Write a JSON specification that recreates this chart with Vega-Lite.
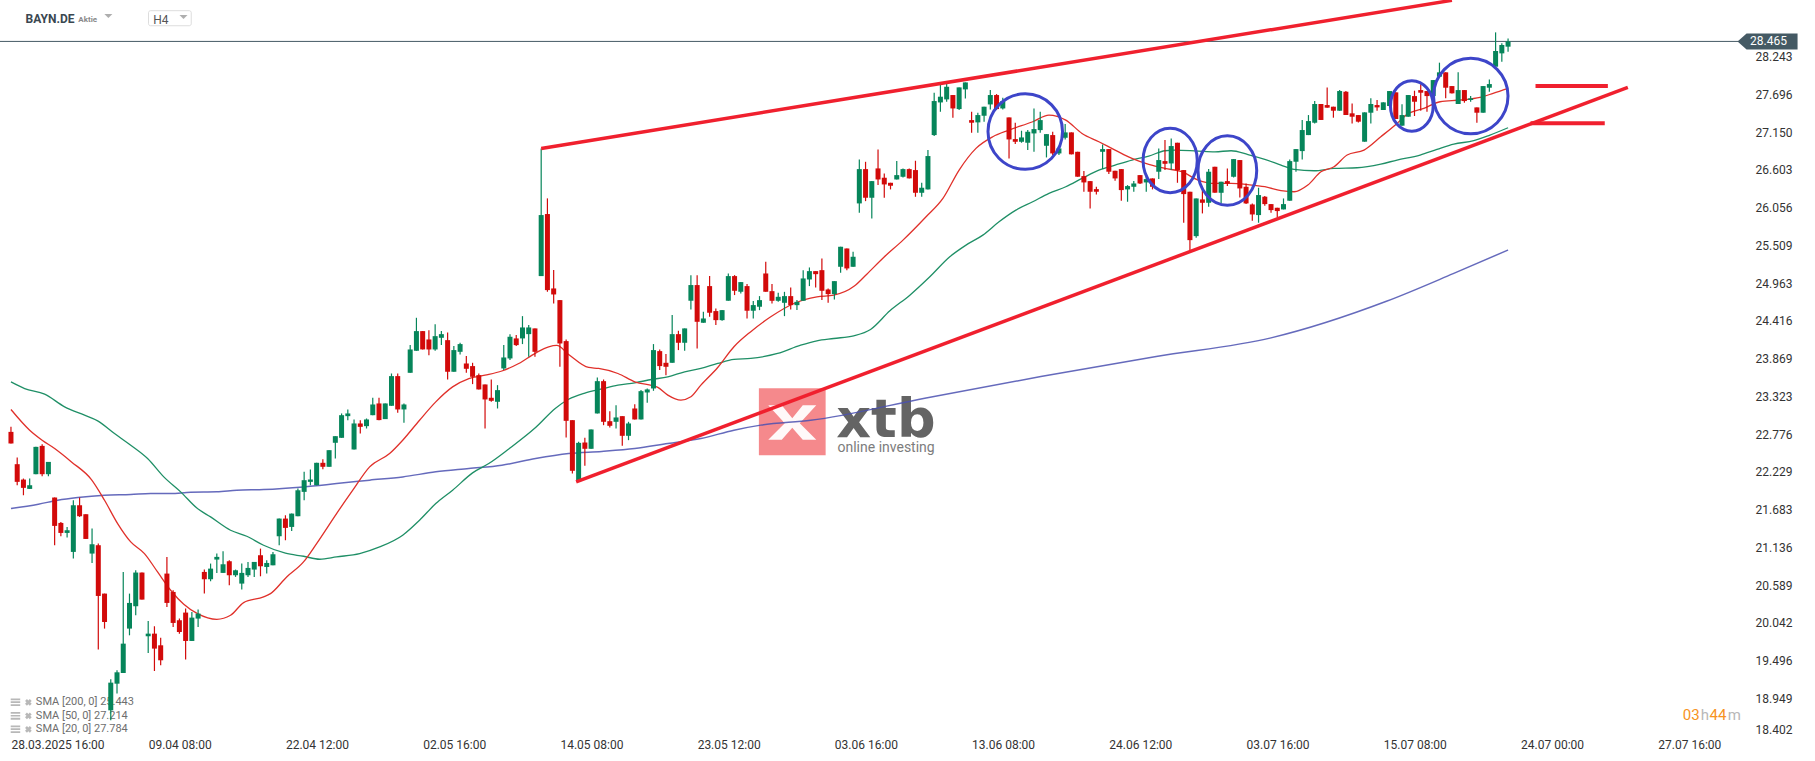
{
"$schema": "https://vega.github.io/schema/vega-lite/v6.json",
"width": 1742, "height": 736,
"autosize": {"type": "none"},
"padding": {"left": 0, "top": 0, "right": 73, "bottom": 25},
"background": "white",
"config": {"view": {"stroke": null}, "font": "Roboto"},
"datasets": {
"candles": [
{"i":0,"o":22.808,"h":22.881,"l":22.639,"c":22.640},{"i":1,"o":22.340,"h":22.436,"l":22.035,"c":22.084},{"i":2,"o":22.117,"h":22.132,"l":21.890,"c":21.997},{"i":3,"o":21.982,"h":22.132,"l":21.982,"c":22.035},{"i":4,"o":22.195,"h":22.591,"l":22.195,"c":22.591},{"i":5,"o":22.605,"h":22.629,"l":22.166,"c":22.195},{"i":6,"o":22.195,"h":22.373,"l":22.166,"c":22.373},{"i":7,"o":21.857,"h":21.857,"l":21.166,"c":21.446},{"i":8,"o":21.489,"h":21.504,"l":21.296,"c":21.344},{"i":9,"o":21.344,"h":21.431,"l":21.277,"c":21.383},
{"i":10,"o":21.069,"h":21.818,"l":20.972,"c":21.745},{"i":11,"o":21.745,"h":21.857,"l":21.576,"c":21.586},{"i":12,"o":21.615,"h":21.615,"l":21.257,"c":21.257},{"i":13,"o":21.045,"h":21.407,"l":20.910,"c":21.180},{"i":14,"o":21.166,"h":21.190,"l":19.654,"c":20.431},{"i":15,"o":20.465,"h":20.465,"l":19.958,"c":20.054},{"i":16,"o":18.774,"h":19.224,"l":18.630,"c":19.175},{"i":17,"o":19.160,"h":19.354,"l":19.016,"c":19.325},{"i":18,"o":19.315,"h":20.779,"l":19.315,"c":19.740},{"i":19,"o":19.958,"h":20.465,"l":19.861,"c":20.330},
{"i":20,"o":20.282,"h":20.803,"l":20.151,"c":20.770},{"i":21,"o":20.770,"h":20.770,"l":20.378,"c":20.378},{"i":22,"o":19.847,"h":20.069,"l":19.605,"c":19.885},{"i":23,"o":19.885,"h":19.992,"l":19.344,"c":19.668},{"i":24,"o":19.716,"h":19.827,"l":19.427,"c":19.499},{"i":25,"o":20.755,"h":20.997,"l":20.272,"c":20.330},{"i":26,"o":20.489,"h":20.513,"l":19.982,"c":20.040},{"i":27,"o":20.079,"h":20.103,"l":19.885,"c":19.909},{"i":28,"o":20.190,"h":20.248,"l":19.509,"c":19.779},{"i":29,"o":19.779,"h":20.200,"l":19.779,"c":20.117},
{"i":30,"o":20.103,"h":20.233,"l":19.982,"c":20.175},{"i":31,"o":20.779,"h":20.813,"l":20.465,"c":20.673},{"i":32,"o":20.673,"h":20.900,"l":20.644,"c":20.827},{"i":33,"o":20.958,"h":21.045,"l":20.765,"c":20.997},{"i":34,"o":20.765,"h":21.079,"l":20.765,"c":20.890},{"i":35,"o":20.934,"h":20.948,"l":20.586,"c":20.731},{"i":36,"o":20.731,"h":20.813,"l":20.707,"c":20.803},{"i":37,"o":20.610,"h":20.900,"l":20.523,"c":20.765},{"i":38,"o":20.731,"h":20.924,"l":20.707,"c":20.837},{"i":39,"o":20.813,"h":20.924,"l":20.707,"c":20.924},
{"i":40,"o":21.021,"h":21.117,"l":20.716,"c":20.861},{"i":41,"o":20.851,"h":20.948,"l":20.755,"c":20.909},{"i":42,"o":20.875,"h":21.069,"l":20.875,"c":21.035},{"i":43,"o":21.296,"h":21.552,"l":21.165,"c":21.552},{"i":44,"o":21.552,"h":21.600,"l":21.238,"c":21.417},{"i":45,"o":21.431,"h":21.624,"l":21.373,"c":21.624},{"i":46,"o":21.586,"h":21.987,"l":21.586,"c":21.962},{"i":47,"o":21.939,"h":22.229,"l":21.818,"c":22.108},{"i":48,"o":22.084,"h":22.263,"l":22.036,"c":22.118},{"i":49,"o":22.036,"h":22.360,"l":22.036,"c":22.360},
{"i":50,"o":22.360,"h":22.413,"l":22.268,"c":22.302},{"i":51,"o":22.302,"h":22.543,"l":22.302,"c":22.543},{"i":52,"o":22.650,"h":22.746,"l":22.422,"c":22.746},{"i":53,"o":22.722,"h":23.075,"l":22.722,"c":23.050},{"i":54,"o":23.036,"h":23.133,"l":22.978,"c":23.075},{"i":55,"o":22.553,"h":22.988,"l":22.553,"c":22.930},{"i":56,"o":22.930,"h":22.978,"l":22.785,"c":22.881},{"i":57,"o":22.891,"h":23.002,"l":22.857,"c":22.988},{"i":58,"o":23.050,"h":23.302,"l":23.050,"c":23.205},{"i":59,"o":23.220,"h":23.302,"l":22.978,"c":22.979},
{"i":60,"o":22.993,"h":23.220,"l":22.993,"c":23.220},{"i":61,"o":23.186,"h":23.654,"l":23.186,"c":23.616},{"i":62,"o":23.616,"h":23.654,"l":23.084,"c":23.133},{"i":63,"o":23.133,"h":23.220,"l":22.939,"c":23.205},{"i":64,"o":23.664,"h":24.065,"l":23.664,"c":24.002},{"i":65,"o":23.983,"h":24.461,"l":23.983,"c":24.268},{"i":66,"o":24.268,"h":24.268,"l":24.002,"c":24.003},{"i":67,"o":24.147,"h":24.282,"l":23.920,"c":24.002},{"i":68,"o":24.002,"h":24.369,"l":23.983,"c":24.195},{"i":69,"o":24.171,"h":24.268,"l":24.065,"c":24.224},
{"i":70,"o":24.137,"h":24.249,"l":23.567,"c":23.679},{"i":71,"o":23.679,"h":24.051,"l":23.679,"c":23.993},{"i":72,"o":23.968,"h":24.099,"l":23.930,"c":24.080},{"i":73,"o":23.799,"h":23.906,"l":23.664,"c":23.722},{"i":74,"o":23.761,"h":23.809,"l":23.500,"c":23.606},{"i":75,"o":23.630,"h":23.654,"l":23.422,"c":23.423},{"i":76,"o":23.495,"h":23.495,"l":22.857,"c":23.278},{"i":77,"o":23.302,"h":23.567,"l":23.244,"c":23.258},{"i":78,"o":23.244,"h":23.485,"l":23.147,"c":23.413},{"i":79,"o":23.727,"h":24.065,"l":23.703,"c":23.886},
{"i":80,"o":23.872,"h":24.224,"l":23.848,"c":24.186},{"i":81,"o":24.162,"h":24.210,"l":24.051,"c":24.065},{"i":82,"o":24.162,"h":24.485,"l":24.080,"c":24.321},{"i":83,"o":24.224,"h":24.355,"l":23.896,"c":24.321},{"i":84,"o":24.307,"h":24.307,"l":23.896,"c":23.968},{"i":85,"o":25.065,"h":26.915,"l":25.065,"c":25.949},{"i":86,"o":25.964,"h":26.191,"l":24.838,"c":24.862},{"i":87,"o":24.886,"h":25.152,"l":24.669,"c":24.799},{"i":88,"o":24.717,"h":24.717,"l":23.751,"c":24.089},{"i":89,"o":24.123,"h":24.147,"l":22.727,"c":22.968},
{"i":90,"o":22.978,"h":22.978,"l":22.205,"c":22.244},{"i":91,"o":22.084,"h":22.664,"l":22.084,"c":22.649},{"i":92,"o":22.654,"h":22.722,"l":22.316,"c":22.563},{"i":93,"o":22.563,"h":22.843,"l":22.563,"c":22.843},{"i":94,"o":23.075,"h":23.596,"l":23.075,"c":23.543},{"i":95,"o":23.543,"h":23.567,"l":22.905,"c":22.954},{"i":96,"o":22.963,"h":23.108,"l":22.872,"c":22.896},{"i":97,"o":22.954,"h":23.195,"l":22.857,"c":23.017},{"i":98,"o":23.036,"h":23.036,"l":22.606,"c":22.751},{"i":99,"o":22.751,"h":22.954,"l":22.688,"c":22.930},
{"i":100,"o":23.147,"h":23.210,"l":22.988,"c":22.988},{"i":101,"o":22.988,"h":23.413,"l":22.988,"c":23.398},{"i":102,"o":23.379,"h":23.437,"l":23.229,"c":23.423},{"i":103,"o":23.437,"h":24.080,"l":23.403,"c":23.993},{"i":104,"o":23.978,"h":24.002,"l":23.703,"c":23.761},{"i":105,"o":23.809,"h":23.935,"l":23.630,"c":23.751},{"i":106,"o":23.809,"h":24.500,"l":23.809,"c":24.224},{"i":107,"o":24.224,"h":24.273,"l":23.993,"c":24.099},{"i":108,"o":24.099,"h":24.307,"l":23.983,"c":24.307},{"i":109,"o":24.708,"h":25.079,"l":24.582,"c":24.935},
{"i":110,"o":24.935,"h":25.079,"l":24.017,"c":24.403},{"i":111,"o":24.389,"h":24.548,"l":24.389,"c":24.451},{"i":112,"o":24.920,"h":25.065,"l":24.476,"c":24.534},{"i":113,"o":24.558,"h":24.596,"l":24.355,"c":24.427},{"i":114,"o":24.427,"h":24.572,"l":24.418,"c":24.572},{"i":115,"o":24.708,"h":25.104,"l":24.708,"c":25.065},{"i":116,"o":25.065,"h":25.079,"l":24.790,"c":24.852},{"i":117,"o":24.838,"h":24.978,"l":24.814,"c":24.978},{"i":118,"o":24.920,"h":24.949,"l":24.451,"c":24.563},{"i":119,"o":24.563,"h":24.703,"l":24.451,"c":24.645},
{"i":120,"o":24.621,"h":24.775,"l":24.572,"c":24.717},{"i":121,"o":25.103,"h":25.272,"l":24.837,"c":24.838},{"i":122,"o":24.847,"h":24.949,"l":24.668,"c":24.707},{"i":123,"o":24.707,"h":24.823,"l":24.693,"c":24.765},{"i":124,"o":24.678,"h":24.837,"l":24.485,"c":24.775},{"i":125,"o":24.775,"h":24.900,"l":24.581,"c":24.644},{"i":126,"o":24.644,"h":24.717,"l":24.572,"c":24.692},{"i":127,"o":24.707,"h":25.151,"l":24.707,"c":25.031},{"i":128,"o":25.016,"h":25.190,"l":24.920,"c":25.137},{"i":129,"o":25.137,"h":25.137,"l":24.900,"c":25.093},
{"i":130,"o":25.151,"h":25.321,"l":24.717,"c":24.852},{"i":131,"o":24.871,"h":24.886,"l":24.678,"c":24.804},{"i":132,"o":24.804,"h":24.992,"l":24.726,"c":24.992},{"i":133,"o":25.200,"h":25.490,"l":25.113,"c":25.490},{"i":134,"o":25.465,"h":25.465,"l":25.151,"c":25.176},{"i":135,"o":25.200,"h":25.417,"l":25.200,"c":25.345},{"i":136,"o":26.118,"h":26.755,"l":25.982,"c":26.615},{"i":137,"o":26.615,"h":26.721,"l":26.151,"c":26.200},{"i":138,"o":26.200,"h":26.441,"l":25.900,"c":26.441},{"i":139,"o":26.625,"h":26.900,"l":26.383,"c":26.465},
{"i":140,"o":26.490,"h":26.552,"l":26.200,"c":26.393},{"i":141,"o":26.417,"h":26.417,"l":26.321,"c":26.374},{"i":142,"o":26.465,"h":26.731,"l":26.465,"c":26.528},{"i":143,"o":26.504,"h":26.625,"l":26.494,"c":26.615},{"i":144,"o":26.615,"h":26.625,"l":26.480,"c":26.481},{"i":145,"o":26.601,"h":26.736,"l":26.214,"c":26.272},{"i":146,"o":26.272,"h":26.417,"l":26.214,"c":26.345},{"i":147,"o":26.321,"h":26.891,"l":26.321,"c":26.804},{"i":148,"o":27.108,"h":27.721,"l":27.093,"c":27.601},{"i":149,"o":27.581,"h":27.857,"l":27.446,"c":27.664},
{"i":150,"o":27.625,"h":27.857,"l":27.591,"c":27.808},{"i":151,"o":27.688,"h":27.688,"l":27.359,"c":27.494},{"i":152,"o":27.485,"h":27.799,"l":27.470,"c":27.799},{"i":153,"o":27.770,"h":27.871,"l":27.639,"c":27.871},{"i":154,"o":27.325,"h":27.446,"l":27.142,"c":27.287},{"i":155,"o":27.292,"h":27.432,"l":27.142,"c":27.398},{"i":156,"o":27.388,"h":27.519,"l":27.301,"c":27.519},{"i":157,"o":27.552,"h":27.760,"l":27.480,"c":27.688},{"i":158,"o":27.688,"h":27.702,"l":27.480,"c":27.485},{"i":159,"o":27.494,"h":27.649,"l":27.480,"c":27.601},
{"i":160,"o":27.364,"h":27.364,"l":26.770,"c":27.045},{"i":161,"o":27.050,"h":27.287,"l":26.978,"c":27.011},{"i":162,"o":27.011,"h":27.171,"l":26.997,"c":27.074},{"i":163,"o":26.997,"h":27.180,"l":26.891,"c":27.156},{"i":164,"o":27.132,"h":27.494,"l":26.866,"c":27.195},{"i":165,"o":27.180,"h":27.446,"l":27.142,"c":27.325},{"i":166,"o":26.953,"h":27.122,"l":26.784,"c":27.122},{"i":167,"o":27.108,"h":27.156,"l":26.818,"c":26.842},{"i":168,"o":26.842,"h":26.915,"l":26.818,"c":26.915},{"i":169,"o":27.069,"h":27.267,"l":27.045,"c":27.147},
{"i":170,"o":27.147,"h":27.147,"l":26.828,"c":26.829},{"i":171,"o":26.866,"h":26.866,"l":26.504,"c":26.505},{"i":172,"o":26.514,"h":26.586,"l":26.287,"c":26.422},{"i":173,"o":26.441,"h":26.441,"l":26.045,"c":26.287},{"i":174,"o":26.325,"h":26.359,"l":26.248,"c":26.287},{"i":175,"o":26.866,"h":26.973,"l":26.615,"c":26.905},{"i":176,"o":26.905,"h":26.905,"l":26.543,"c":26.577},{"i":177,"o":26.591,"h":26.591,"l":26.446,"c":26.480},{"i":178,"o":26.615,"h":26.615,"l":26.156,"c":26.311},{"i":179,"o":26.321,"h":26.383,"l":26.142,"c":26.369},
{"i":180,"o":26.359,"h":26.441,"l":26.287,"c":26.407},{"i":181,"o":26.528,"h":26.528,"l":26.398,"c":26.407},{"i":182,"o":26.422,"h":26.528,"l":26.287,"c":26.470},{"i":183,"o":26.480,"h":26.480,"l":26.321,"c":26.359},{"i":184,"o":26.577,"h":26.915,"l":26.470,"c":26.746},{"i":185,"o":26.731,"h":27.036,"l":26.601,"c":26.692},{"i":186,"o":26.697,"h":27.060,"l":26.601,"c":26.949},{"i":187,"o":26.997,"h":26.997,"l":26.417,"c":26.601},{"i":188,"o":26.601,"h":26.601,"l":25.837,"c":26.253},{"i":189,"o":26.287,"h":26.287,"l":25.417,"c":25.586},
{"i":190,"o":25.644,"h":26.190,"l":25.620,"c":26.190},{"i":191,"o":26.176,"h":26.311,"l":25.973,"c":26.127},{"i":192,"o":26.127,"h":26.615,"l":26.069,"c":26.577},{"i":193,"o":26.649,"h":26.649,"l":26.272,"c":26.273},{"i":194,"o":26.272,"h":26.432,"l":26.118,"c":26.432},{"i":195,"o":26.441,"h":26.625,"l":26.369,"c":26.407},{"i":196,"o":26.504,"h":26.760,"l":26.494,"c":26.760},{"i":197,"o":26.746,"h":26.746,"l":26.205,"c":26.335},{"i":198,"o":26.359,"h":26.407,"l":26.108,"c":26.118},{"i":199,"o":26.103,"h":26.118,"l":25.866,"c":25.958},
{"i":200,"o":25.949,"h":26.345,"l":25.838,"c":26.239},{"i":201,"o":26.215,"h":26.224,"l":26.084,"c":26.108},{"i":202,"o":26.108,"h":26.108,"l":25.983,"c":26.021},{"i":203,"o":26.055,"h":26.055,"l":25.915,"c":26.007},{"i":204,"o":26.031,"h":26.190,"l":26.031,"c":26.108},{"i":205,"o":26.157,"h":26.756,"l":26.157,"c":26.731},{"i":206,"o":26.722,"h":26.905,"l":26.577,"c":26.905},{"i":207,"o":26.876,"h":27.326,"l":26.756,"c":27.181},{"i":208,"o":27.108,"h":27.398,"l":27.108,"c":27.311},{"i":209,"o":27.287,"h":27.601,"l":27.277,"c":27.558},
{"i":210,"o":27.558,"h":27.558,"l":27.326,"c":27.327},{"i":211,"o":27.543,"h":27.799,"l":27.504,"c":27.505},{"i":212,"o":27.519,"h":27.519,"l":27.360,"c":27.461},{"i":213,"o":27.461,"h":27.760,"l":27.461,"c":27.746},{"i":214,"o":27.736,"h":27.746,"l":27.398,"c":27.399},{"i":215,"o":27.423,"h":27.567,"l":27.277,"c":27.374},{"i":216,"o":27.398,"h":27.398,"l":27.290,"c":27.302},{"i":217,"o":27.012,"h":27.437,"l":27.012,"c":27.437},{"i":218,"o":27.432,"h":27.640,"l":27.277,"c":27.558},{"i":219,"o":27.543,"h":27.616,"l":27.461,"c":27.509},
{"i":220,"o":27.471,"h":27.582,"l":27.471,"c":27.582},{"i":221,"o":27.529,"h":27.746,"l":27.509,"c":27.746},{"i":222,"o":27.727,"h":27.727,"l":27.340,"c":27.341},{"i":223,"o":27.244,"h":27.553,"l":27.244,"c":27.398},{"i":224,"o":27.374,"h":27.688,"l":27.374,"c":27.688},{"i":225,"o":27.673,"h":27.751,"l":27.384,"c":27.591},{"i":226,"o":27.760,"h":27.843,"l":27.461,"c":27.722},{"i":227,"o":27.746,"h":27.746,"l":27.447,"c":27.673},{"i":228,"o":27.673,"h":27.905,"l":27.673,"c":27.905},{"i":229,"o":27.954,"h":28.157,"l":27.954,"c":28.017},
{"i":230,"o":28.017,"h":28.017,"l":27.640,"c":27.794},{"i":231,"o":27.818,"h":27.818,"l":27.712,"c":27.713},{"i":232,"o":27.558,"h":28.017,"l":27.558,"c":27.760},{"i":233,"o":27.760,"h":27.760,"l":27.577,"c":27.601},{"i":234,"o":27.616,"h":27.674,"l":27.591,"c":27.640},{"i":235,"o":27.509,"h":27.509,"l":27.287,"c":27.432},{"i":236,"o":27.432,"h":27.818,"l":27.432,"c":27.818},{"i":237,"o":27.794,"h":27.915,"l":27.736,"c":27.847},{"i":238,"o":28.099,"h":28.596,"l":28.099,"c":28.326},{"i":239,"o":28.292,"h":28.437,"l":28.171,"c":28.413},
{"i":240,"o":28.389,"h":28.509,"l":28.316,"c":28.465}
],
"sma20": [
{"i":0,"v":23.132},{"i":3,"v":22.832},{"i":5,"v":22.687},{"i":7,"v":22.567},{"i":9.7,"v":22.373},{"i":12.9,"v":22.117},{"i":15,"v":21.818},{"i":17.1,"v":21.48},{"i":19.2,"v":21.214},{"i":21.4,"v":21.045},{"i":23.5,"v":20.779},{"i":25.6,"v":20.514},{"i":27.7,"v":20.311},{"i":29.9,"v":20.175},{"i":33,"v":20.093},{"i":35.2,"v":20.151},{"i":37.3,"v":20.335},{"i":40.5,"v":20.417},{"i":41.6,"v":20.465},{"i":44.2,"v":20.706},{"i":46.9,"v":20.924},{"i":49,"v":21.19},{"i":52.2,"v":21.625},{"i":54.8,"v":21.963},{"i":57.5,"v":22.301},{"i":60.7,"v":22.494},{"i":62.8,"v":22.687},{"i":65.5,"v":22.977},{"i":68.1,"v":23.243},{"i":70.8,"v":23.46},{"i":73.4,"v":23.581},{"i":76,"v":23.629},{"i":78.7,"v":23.69},{"i":81.4,"v":23.798},{"i":84.1,"v":23.95},{"i":86.2,"v":24.04},{"i":87.5,"v":24.06},{"i":89.4,"v":23.93},{"i":92.6,"v":23.741},{"i":94.2,"v":23.727},{"i":97.3,"v":23.654},{"i":100,"v":23.534},{"i":103.7,"v":23.452},{"i":105.3,"v":23.341},{"i":107.4,"v":23.268},{"i":109,"v":23.316},{"i":110.6,"v":23.485},{"i":113.3,"v":23.741},{"i":115.9,"v":24.041},{"i":118.6,"v":24.26},{"i":121.8,"v":24.475},{"i":125.5,"v":24.668},{"i":129.2,"v":24.765},{"i":131.9,"v":24.789},{"i":135.2,"v":24.92},{"i":137.2,"v":25.093},{"i":139.9,"v":25.335},{"i":143,"v":25.586},{"i":146.7,"v":25.924},{"i":149.4,"v":26.19},{"i":152,"v":26.601},{"i":154.7,"v":26.915},{"i":157.4,"v":27.084},{"i":160,"v":27.18},{"i":163.8,"v":27.301},{"i":166.4,"v":27.398},{"i":169.1,"v":27.325},{"i":171.7,"v":27.132},{"i":174.4,"v":27.011},{"i":177,"v":26.891},{"i":179.7,"v":26.77},{"i":182.4,"v":26.683},{"i":185,"v":26.625},{"i":187.7,"v":26.577},{"i":190.3,"v":26.456},{"i":193,"v":26.407},{"i":195.6,"v":26.407},{"i":198.3,"v":26.39},{"i":201,"v":26.36},{"i":203.6,"v":26.302},{"i":205.7,"v":26.287},{"i":207.9,"v":26.384},{"i":210,"v":26.577},{"i":212.1,"v":26.649},{"i":214.2,"v":26.819},{"i":216.9,"v":26.891},{"i":219.6,"v":27.084},{"i":222.2,"v":27.277},{"i":223.8,"v":27.408},{"i":226.5,"v":27.495},{"i":229.1,"v":27.591},{"i":232.3,"v":27.616},{"i":235.5,"v":27.654},{"i":237.6,"v":27.712},{"i":240,"v":27.784}
],
"sma50": [
{"i":0,"v":23.533},{"i":2.2,"v":23.436},{"i":5.4,"v":23.354},{"i":8.6,"v":23.171},{"i":11.8,"v":23.05},{"i":13.9,"v":22.968},{"i":16.6,"v":22.784},{"i":19.2,"v":22.615},{"i":21.9,"v":22.422},{"i":24.5,"v":22.156},{"i":27.2,"v":21.939},{"i":29.9,"v":21.697},{"i":32,"v":21.576},{"i":35.2,"v":21.383},{"i":37.8,"v":21.296},{"i":40.5,"v":21.166},{"i":44,"v":21.05},{"i":46.9,"v":21.006},{"i":49.5,"v":20.963},{"i":52.2,"v":20.997},{"i":55.9,"v":21.045},{"i":59.1,"v":21.141},{"i":62.8,"v":21.311},{"i":65.5,"v":21.528},{"i":68.1,"v":21.769},{"i":70.8,"v":21.963},{"i":74,"v":22.214},{"i":76.6,"v":22.349},{"i":79.8,"v":22.56},{"i":84.1,"v":22.87},{"i":87.3,"v":23.15},{"i":89.4,"v":23.28},{"i":92,"v":23.37},{"i":94.7,"v":23.43},{"i":97.3,"v":23.485},{"i":100,"v":23.519},{"i":102.7,"v":23.567},{"i":105.3,"v":23.606},{"i":108,"v":23.679},{"i":110.6,"v":23.727},{"i":113.3,"v":23.799},{"i":115.9,"v":23.857},{"i":118.6,"v":23.872},{"i":122.9,"v":23.944},{"i":126.6,"v":24.064},{"i":129.2,"v":24.127},{"i":131.9,"v":24.161},{"i":135.1,"v":24.2},{"i":137.8,"v":24.292},{"i":140.9,"v":24.562},{"i":144.1,"v":24.789},{"i":147.3,"v":25.055},{"i":150.5,"v":25.345},{"i":153.1,"v":25.514},{"i":155.8,"v":25.659},{"i":158.4,"v":25.852},{"i":161.1,"v":26.021},{"i":163.8,"v":26.142},{"i":166.4,"v":26.263},{"i":169.1,"v":26.359},{"i":171.7,"v":26.48},{"i":174.4,"v":26.601},{"i":177,"v":26.673},{"i":179.7,"v":26.746},{"i":182.4,"v":26.804},{"i":185,"v":26.881},{"i":186.6,"v":26.891},{"i":190.3,"v":26.876},{"i":193,"v":26.866},{"i":195.6,"v":26.881},{"i":198.3,"v":26.826},{"i":201,"v":26.756},{"i":203.6,"v":26.674},{"i":205.7,"v":26.611},{"i":208.9,"v":26.591},{"i":212.1,"v":26.625},{"i":215.8,"v":26.635},{"i":219.6,"v":26.688},{"i":222.2,"v":26.746},{"i":225.9,"v":26.819},{"i":228.6,"v":26.901},{"i":231.3,"v":26.978},{"i":234.5,"v":27.026},{"i":237.1,"v":27.108},{"i":240,"v":27.214}
],
"sma200": [
{"i":0,"v":21.697},{"i":4.4,"v":21.76},{"i":7.5,"v":21.818},{"i":10.7,"v":21.857},{"i":15,"v":21.89},{"i":19.2,"v":21.9},{"i":22.4,"v":21.914},{"i":25.6,"v":21.914},{"i":28.8,"v":21.934},{"i":33,"v":21.939},{"i":36.2,"v":21.963},{"i":40.5,"v":21.973},{"i":46.9,"v":22.011},{"i":52.2,"v":22.059},{"i":57.5,"v":22.108},{"i":62.8,"v":22.156},{"i":68.1,"v":22.229},{"i":73.4,"v":22.277},{"i":78.7,"v":22.325},{"i":84.1,"v":22.422},{"i":89.4,"v":22.494},{"i":94.7,"v":22.525},{"i":100,"v":22.567},{"i":105.3,"v":22.64},{"i":110.6,"v":22.712},{"i":115.9,"v":22.833},{"i":120.2,"v":22.906},{"i":128.2,"v":22.975},{"i":146.7,"v":23.3},{"i":165.1,"v":23.61},{"i":183.6,"v":23.9},{"i":202,"v":24.17},{"i":220.5,"v":24.7},{"i":231.2,"v":25.1},{"i":240,"v":25.443}
],
"trendUp": [{"i":85,"v":26.915},{"i":231,"v":29.06}],
"trendLow": [{"i":90.6,"v":22.084},{"i":259.2,"v":27.8}],
"bars": [{"i":244.4,"i2":256,"v":27.818},{"i":243.6,"i2":255.5,"v":27.28}],
"circles": [{"i":162.6,"v":27.159},{"i":234.02,"v":27.673}]
},
"layer": [
{"data": {"values": [{"v": 28.465}]}, "mark": {"type": "rule", "color": "#455a64", "strokeWidth": 1},
 "encoding": {"y": {"field": "v", "type": "quantitative", "scale": {"domain": [18.402, 29.065], "nice": false, "zero": false},
   "axis": {"orient": "right", "values": [18.402,18.949,19.496,20.042,20.589,21.136,21.683,22.229,22.776,23.323,23.869,24.416,24.963,25.509,26.056,26.603,27.150,27.696,28.243], "format": ".3f", "title": null, "domain": false, "ticks": false, "grid": false, "labelPadding": 13, "labelFontSize": 12, "labelColor": "#333333", "labelFont": "Roboto", "labelFlush": true, "labelOverlap": false}}}},
{"data": {"values": [{"i": 0, "v": 18.4}]}, "mark": {"type": "point", "opacity": 0},
 "encoding": {"x": {"field": "i", "type": "quantitative", "scale": {"domain": [-0.956, 276.7], "nice": false, "zero": false},
   "axis": {"orient": "bottom", "values": [0,22,44,66,88,110,132,154,176,198,220,242,264], "labelExpr": "['28.03.2025  16:00','09.04  08:00','22.04  12:00','02.05  16:00','14.05  08:00','23.05  12:00','03.06  16:00','13.06  08:00','24.06  12:00','03.07  16:00','15.07  08:00','24.07  00:00','27.07  16:00'][round(datum.value/22)]", "title": null, "domain": false, "ticks": false, "grid": false, "labelAlign": "left", "labelBaseline": "middle", "labelPadding": 8, "labelFontSize": 12, "labelColor": "#333333", "labelFont": "Roboto", "labelFlush": false, "labelOverlap": false, "labelBound": false}},
  "y": {"field": "v", "type": "quantitative"}}},
{"data": {"values": [{"i": 119.9, "i2": 130.6, "v": 23.441, "v2": 22.47}]}, "mark": {"type": "rect", "color": "#ee3a3f", "opacity": 0.6},
 "encoding": {"x": {"field": "i", "type": "quantitative"}, "x2": {"field": "i2"}, "y": {"field": "v", "type": "quantitative"}, "y2": {"field": "v2"}}},
{"data": {"values": [{"i": 125.25, "v": 22.955}]}, "mark": {"type": "point", "shape": "M -0.8 -0.55 L -0.35 -0.55 L 0 -0.12 L 0.35 -0.55 L 0.8 -0.55 L 0.25 0.05 L 0.8 0.6 L 0.35 0.6 L 0 0.2 L -0.35 0.6 L -0.8 0.6 L -0.25 0.05 Z", "size": 3600, "filled": true, "color": "white", "opacity": 0.95},
 "encoding": {"x": {"field": "i", "type": "quantitative"}, "y": {"field": "v", "type": "quantitative"}}},
{"data": {"values": [{"i": 132.3, "v": 22.731, "t": "xtb"}]}, "mark": {"type": "text", "align": "left", "baseline": "alphabetic", "fontSize": 54, "fontWeight": "bold", "font": "DejaVu Sans", "color": "#4a4a4a", "opacity": 0.85},
 "encoding": {"x": {"field": "i", "type": "quantitative"}, "y": {"field": "v", "type": "quantitative"}, "text": {"field": "t"}}},
{"data": {"values": [{"i": 132.5, "v": 22.52, "t": "online investing"}]}, "mark": {"type": "text", "align": "left", "baseline": "alphabetic", "fontSize": 14, "font": "Roboto", "color": "#666666", "opacity": 0.85},
 "encoding": {"x": {"field": "i", "type": "quantitative"}, "y": {"field": "v", "type": "quantitative"}, "text": {"field": "t"}}},
{"data": {"values": [{"i": 3.99, "v": 18.890, "t": "SMA [200, 0] 25.443"}, {"i": 3.99, "v": 18.694, "t": "SMA [50, 0] 27.214"}, {"i": 3.99, "v": 18.499, "t": "SMA [20, 0] 27.784"}]},
 "mark": {"type": "text", "align": "left", "baseline": "middle", "fontSize": 11, "font": "Roboto", "color": "#6e6e6e"},
 "encoding": {"x": {"field": "i", "type": "quantitative"}, "y": {"field": "v", "type": "quantitative"}, "text": {"field": "t"}}},
{"data": {"values": [{"i": 0.72, "v": 18.890}, {"i": 0.72, "v": 18.694}, {"i": 0.72, "v": 18.499}]},
 "mark": {"type": "point", "shape": "M -1 -0.8 L 1 -0.8 L 1 -0.45 L -1 -0.45 Z M -1 -0.2 L 1 -0.2 L 1 0.15 L -1 0.15 Z M -1 0.4 L 1 0.4 L 1 0.8 L -1 0.8 Z", "size": 90, "filled": true, "color": "#9a9a9a"},
 "encoding": {"x": {"field": "i", "type": "quantitative"}, "y": {"field": "v", "type": "quantitative"}}},
{"data": {"values": [{"i": 2.79, "v": 18.890}, {"i": 2.79, "v": 18.694}, {"i": 2.79, "v": 18.499}]},
 "mark": {"type": "point", "shape": "cross", "angle": 45, "size": 45, "filled": true, "color": "#9a9a9a"},
 "encoding": {"x": {"field": "i", "type": "quantitative"}, "y": {"field": "v", "type": "quantitative"}}},
{"data": {"name": "sma200"}, "mark": {"type": "line", "color": "#4a50b0", "strokeWidth": 1.5, "opacity": 0.85, "interpolate": "monotone", "clip": true},
 "encoding": {"x": {"field": "i", "type": "quantitative"}, "y": {"field": "v", "type": "quantitative"}}},
{"data": {"name": "sma50"}, "mark": {"type": "line", "color": "#1f8f66", "strokeWidth": 1.3, "interpolate": "monotone", "clip": true},
 "encoding": {"x": {"field": "i", "type": "quantitative"}, "y": {"field": "v", "type": "quantitative"}}},
{"data": {"name": "sma20"}, "mark": {"type": "line", "color": "#e0302a", "strokeWidth": 1.3, "interpolate": "monotone", "clip": true},
 "encoding": {"x": {"field": "i", "type": "quantitative"}, "y": {"field": "v", "type": "quantitative"}}},
{"data": {"name": "candles"}, "mark": {"type": "rule", "strokeWidth": 1.2},
 "encoding": {"x": {"field": "i", "type": "quantitative"}, "y": {"field": "l", "type": "quantitative"}, "y2": {"field": "h"},
  "color": {"condition": {"test": "datum.c >= datum.o", "value": "#06855a"}, "value": "#d20a0a"}}},
{"data": {"name": "candles"}, "mark": {"type": "bar", "size": 5},
 "encoding": {"x": {"field": "i", "type": "quantitative"}, "y": {"field": "o", "type": "quantitative"}, "y2": {"field": "c"},
  "color": {"condition": {"test": "datum.c >= datum.o", "value": "#06855a"}, "value": "#d20a0a"}}},
{"data": {"name": "trendUp"}, "mark": {"type": "line", "color": "#f0202e", "strokeWidth": 3.5, "clip": true},
 "encoding": {"x": {"field": "i", "type": "quantitative"}, "y": {"field": "v", "type": "quantitative"}}},
{"data": {"name": "trendLow"}, "mark": {"type": "line", "color": "#f0202e", "strokeWidth": 3.5, "clip": true},
 "encoding": {"x": {"field": "i", "type": "quantitative"}, "y": {"field": "v", "type": "quantitative"}}},
{"data": {"name": "bars"}, "mark": {"type": "rule", "color": "#f0202e", "strokeWidth": 4},
 "encoding": {"x": {"field": "i", "type": "quantitative"}, "x2": {"field": "i2"}, "y": {"field": "v", "type": "quantitative"}}},
{"data": {"name": "circles"}, "mark": {"type": "point", "shape": "M -0.987 0 A 0.987 1 0 1 1 0.987 0 A 0.987 1 0 1 1 -0.987 0 Z", "size": 5700, "filled": false, "strokeWidth": 3, "color": "#3d45c9", "opacity": 1},
 "encoding": {"x": {"field": "i", "type": "quantitative"}, "y": {"field": "v", "type": "quantitative"}}},
{"data": {"values": [{"i": 185.83, "v": 26.741}]}, "mark": {"type": "point", "shape": "M -0.84 0 A 0.84 1 0 1 1 0.84 0 A 0.84 1 0 1 1 -0.84 0 Z", "size": 4160, "filled": false, "strokeWidth": 3, "color": "#3d45c9", "opacity": 1},
 "encoding": {"x": {"field": "i", "type": "quantitative"}, "y": {"field": "v", "type": "quantitative"}}},
{"data": {"values": [{"i": 195.0, "v": 26.594}]}, "mark": {"type": "point", "shape": "M -0.845 0 A 0.845 1 0 1 1 0.845 0 A 0.845 1 0 1 1 -0.845 0 Z", "size": 4830, "filled": false, "strokeWidth": 3, "color": "#3d45c9", "opacity": 1},
 "encoding": {"x": {"field": "i", "type": "quantitative"}, "y": {"field": "v", "type": "quantitative"}}},
{"data": {"values": [{"i": 224.57, "v": 27.531}]}, "mark": {"type": "point", "shape": "M -0.846 0 A 0.846 1 0 1 1 0.846 0 A 0.846 1 0 1 1 -0.846 0 Z", "size": 2550, "filled": false, "strokeWidth": 3, "color": "#3d45c9", "opacity": 1},
 "encoding": {"x": {"field": "i", "type": "quantitative"}, "y": {"field": "v", "type": "quantitative"}}},
{"data": {"values": [{"i": 2.34, "v": 28.727, "t": "BAYN.DE"}]}, "mark": {"type": "text", "align": "left", "baseline": "alphabetic", "fontSize": 12, "fontWeight": "bold", "font": "Roboto", "color": "#3a4750"},
 "encoding": {"x": {"field": "i", "type": "quantitative"}, "y": {"field": "v", "type": "quantitative"}, "text": {"field": "t"}}},
{"data": {"values": [{"i": 10.8, "v": 28.750, "t": "Aktie"}]}, "mark": {"type": "text", "align": "left", "baseline": "alphabetic", "fontSize": 8, "fontWeight": "bold", "font": "Roboto", "color": "#8a8a8a"},
 "encoding": {"x": {"field": "i", "type": "quantitative"}, "y": {"field": "v", "type": "quantitative"}, "text": {"field": "t"}}},
{"data": {"values": [{"i": 22.05, "i2": 28.9, "v": 28.910, "v2": 28.692}]}, "mark": {"type": "rect", "fill": "white", "stroke": "#dddddd", "strokeWidth": 1, "cornerRadius": 2},
 "encoding": {"x": {"field": "i", "type": "quantitative"}, "x2": {"field": "i2"}, "y": {"field": "v", "type": "quantitative"}, "y2": {"field": "v2"}}},
{"data": {"values": [{"i": 22.8, "v": 28.717, "t": "H4"}]}, "mark": {"type": "text", "align": "left", "baseline": "alphabetic", "fontSize": 12, "font": "Roboto", "color": "#555555"},
 "encoding": {"x": {"field": "i", "type": "quantitative"}, "y": {"field": "v", "type": "quantitative"}, "text": {"field": "t"}}},
{"data": {"values": [{"i": 15.62, "v": 28.833}, {"i": 27.66, "v": 28.818}]}, "mark": {"type": "point", "shape": "M -1 -0.5 L 1 -0.5 L 0 0.5 Z", "size": 64, "filled": true, "color": "#8c8c8c"},
 "encoding": {"x": {"field": "i", "type": "quantitative"}, "y": {"field": "v", "type": "quantitative"}}},
{"data": {"values": [{"i": 268.0, "v": 18.708, "t": "03"}, {"i": 270.9, "v": 18.708, "t": "h"}, {"i": 272.3, "v": 18.708, "t": "44"}, {"i": 275.2, "v": 18.708, "t": "m"}]},
 "mark": {"type": "text", "align": "left", "baseline": "middle", "fontSize": 15, "font": "Roboto"},
 "encoding": {"x": {"field": "i", "type": "quantitative"}, "y": {"field": "v", "type": "quantitative"}, "text": {"field": "t"},
  "color": {"condition": {"test": "datum.t == 'h' || datum.t == 'm'", "value": "#b8b8b8"}, "value": "#f7931e"}}},
{"data": {"values": [{"i": 281.6, "v": 28.465}]}, "mark": {"type": "point", "shape": "M -1 0 L -0.7 -0.267 L 1 -0.267 L 1 0.267 L -0.7 0.267 Z", "size": 3600, "filled": true, "color": "#455a64", "opacity": 1},
 "encoding": {"x": {"field": "i", "type": "quantitative"}, "y": {"field": "v", "type": "quantitative"}}},
{"data": {"values": [{"i": 278.8, "v": 28.465, "t": "28.465"}]}, "mark": {"type": "text", "align": "left", "baseline": "middle", "fontSize": 12, "font": "Roboto", "color": "white"},
 "encoding": {"x": {"field": "i", "type": "quantitative"}, "y": {"field": "v", "type": "quantitative"}, "text": {"field": "t"}}}
]
}
